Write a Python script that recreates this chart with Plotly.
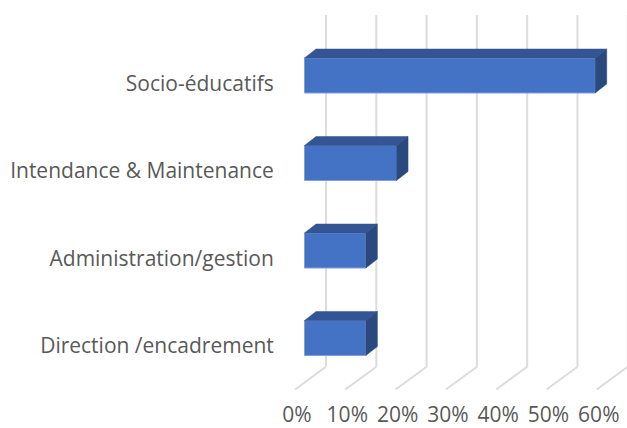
import plotly.graph_objects as go

categories = ["Direction /encadrement", "Administration/gestion", "Intendance & Maintenance", "Socio-éducatifs"]
values = [12.2, 12.2, 18.3, 57.8]
x_ticks = [0, 10, 20, 30, 40, 50, 60]
x_labels = ["0%", "10%", "20%", "30%", "40%", "50%", "60%"]

W, H = 627, 428
L, B = 293, 28
PX_X = 5.03
PX_Y = 87.5
Y0 = 346
ZERO = 297
xr = [(L - ZERO) / PX_X, (W - ZERO) / PX_X]
yr = [(Y0 - (H - B)) / PX_Y, Y0 / PX_Y]
dx = lambda px: px / PX_X
dy = lambda px: px / PX_Y
py = lambda px: (Y0 - px) / PX_Y

GRID = "#dcdcdc"
FRONT, TOP, SIDE, EDGE = "#4472c4", "#335593", "#2a4a7f", "#7f9fd8"
FONT = "Open Sans"
FS = 21
TXT = "#595959"

fig = go.Figure()
floor = dx(-2)
back = dx(29)
for t in x_ticks:
    line = dict(color=GRID, width=2)
    fig.add_shape(type="line", layer="below", x0=t + floor, x1=t + back, y0=py(389.5), y1=py(366.7), line=line)
    fig.add_shape(type="line", layer="below", x0=t + back, x1=t + back, y0=py(366.7), y1=py(15), line=line)

base = dx(7.5)
bar_h = dy(35)
shift = dy(8)
ddx, ddy = dx(11.5), dy(9)
for i, v in enumerate(values):
    bot = i + shift - bar_h / 2
    top = bot + bar_h
    x0, x1 = base, base + v
    fig.add_trace(go.Scatter(x=[x0, x0 + ddx, x1 + ddx, x1, x0], y=[top, top + ddy, top + ddy, top, top],
                             mode="lines", fill="toself", fillcolor=TOP, line=dict(color=TOP, width=0.5), hoverinfo="skip", showlegend=False))
    fig.add_trace(go.Scatter(x=[x1, x1 + ddx, x1 + ddx, x1, x1], y=[top, top + ddy, bot + ddy, bot, top],
                             mode="lines", fill="toself", fillcolor=SIDE, line=dict(color=SIDE, width=0.5), hoverinfo="skip", showlegend=False))

fig.add_trace(go.Bar(y=list(range(len(values))), x=values, base=base, orientation="h", width=bar_h, offset=shift - bar_h / 2,
                     marker=dict(color=FRONT, line=dict(color=EDGE, width=1)), showlegend=False))

fig.update_layout(
    width=W, height=H, margin=dict(l=L, r=0, t=0, b=B, autoexpand=False),
    paper_bgcolor="white", plot_bgcolor="rgba(0,0,0,0)", showlegend=False,
    font=dict(family=FONT, size=FS, color=TXT),
    xaxis=dict(range=xr, tickvals=x_ticks, ticktext=x_labels, showgrid=False, zeroline=False, showline=False,
               ticks="", tickfont=dict(size=FS, color=TXT, family=FONT)),
    yaxis=dict(range=yr, tickvals=list(range(len(categories))), ticktext=categories, showgrid=False, zeroline=False,
               showline=False, ticks="outside", ticklen=14, tickcolor="rgba(0,0,0,0)", tickfont=dict(size=FS, color=TXT, family=FONT)),
)
fig.write_html("out.html", config={"displayModeBar": False},
               post_script="document.body.style.margin='0';document.documentElement.style.overflow='hidden';")
